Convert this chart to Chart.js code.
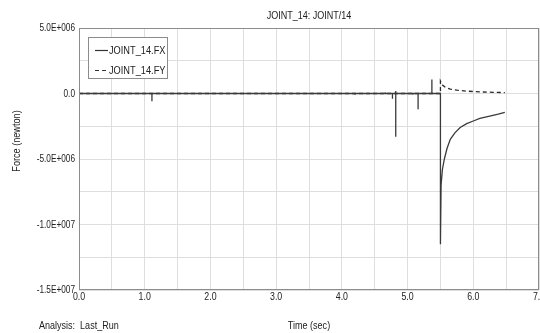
<!DOCTYPE html>
<html>
<head>
<meta charset="utf-8">
<script src="https://cdn.jsdelivr.net/npm/chart.js@4"></script>
<style>
  html, body { margin: 0; padding: 0; background: #fff; }
  #wrap { position: relative; width: 540px; height: 333px; }
</style>
</head>
<body>
<div id="wrap"><canvas id="force-chart" width="540" height="333"></canvas></div>
<script>
// JOINT_14 force vs time
const fxTime = [0, 1.11, 1.11, 1.11, 4.20, 4.20, 4.20, 4.66, 4.66, 4.66, 4.77, 4.77, 4.77,
  4.82, 4.82, 4.82, 4.82, 5.08, 5.08, 5.08, 5.16, 5.16, 5.16, 5.37, 5.37, 5.37,
  5.50, 5.50, 5.51, 5.53, 5.56, 5.60, 5.65, 5.72, 5.80, 5.90, 6.00, 6.10, 6.25, 6.38, 6.48];
const fxForce = [0, 0, -0.6e6, 0, 0, -0.1e6, 0, 0, 0.1e6, 0, 0, -0.4e6, 0,
  0, 0.2e6, -3.3e6, 0, 0, -0.1e6, 0, 0, -1.2e6, 0, 0, 1.07e6, 0,
  0, -11.5e6, -7.0e6, -5.8e6, -5.0e6, -4.2e6, -3.5e6, -3.0e6, -2.6e6, -2.3e6, -2.1e6, -1.9e6, -1.72e6, -1.58e6, -1.45e6];

const fyTime = [0, 5.50, 5.50, 5.53, 5.58, 5.65, 5.75, 5.90, 6.10, 6.30, 6.48];
const fyForce = [0, 0, 0.95e6, 0.65e6, 0.45e6, 0.33e6, 0.25e6, 0.18e6, 0.12e6, 0.09e6, 0.07e6];

const seriesLabels = ['JOINT_14.FX', 'JOINT_14.FY'];
const yTickLabels = { '5000000': '5.0E+006', '0': '0.0', '-5000000': '-5.0E+006', '-10000000': '-1.0E+007', '-15000000': '-1.5E+007' };

const FONT = "'Liberation Sans', Arial, sans-serif";

const toPoints = (xs, ys) => xs.map((x, i) => ({ x: x, y: ys[i] }));

// text squeezed horizontally to look like the narrow plot font
function narrowText(ctx, text, x, y, align, sx) {
  ctx.save();
  ctx.translate(x, y);
  ctx.scale(sx || 0.82, 1);
  ctx.textAlign = align;
  ctx.fillText(text, 0, 0);
  ctx.restore();
}

// frame, legend box, tick labels and loose text labels
const decorPlugin = {
  id: 'decor',
  afterDraw(chart) {
    const { ctx, chartArea } = chart;
    const xs = chart.scales.x, ys = chart.scales.y;
    ctx.save();
    ctx.strokeStyle = '#8c8c8c';
    ctx.lineWidth = 1;
    ctx.strokeRect(chartArea.left + 0.5, chartArea.top + 0.5, chartArea.right - chartArea.left - 1, chartArea.bottom - chartArea.top - 1);

    ctx.font = '11px ' + FONT;
    ctx.textBaseline = 'middle';
    ctx.fillStyle = '#222';

    // tick labels
    xs.ticks.forEach(t => {
      if (Math.abs(t.value - Math.round(t.value)) < 1e-9) {
        narrowText(ctx, t.value.toFixed(1), xs.getPixelForValue(t.value), 297, 'center', 0.8);
      }
    });
    ys.ticks.forEach(t => {
      const lab = yTickLabels[String(Math.round(t.value))];
      if (lab) narrowText(ctx, lab, 75, ys.getPixelForValue(t.value), 'right', 0.75);
    });

    // legend
    ctx.fillStyle = '#fff';
    ctx.fillRect(88, 37, 79, 41);
    ctx.strokeStyle = '#8c8c8c';
    ctx.strokeRect(88.5, 37.5, 79, 41);
    chart.data.datasets.forEach((ds, i) => {
      const y = 50 + i * 20 + 0.5;
      ctx.strokeStyle = '#333';
      ctx.lineWidth = 1.2;
      ctx.setLineDash(ds.borderDash || []);
      ctx.beginPath();
      ctx.moveTo(95, y);
      ctx.lineTo(108, y);
      ctx.stroke();
      ctx.setLineDash([]);
      ctx.fillStyle = '#222';
      narrowText(ctx, ds.label, 109, y, 'left', 0.84);
    });

    // titles
    ctx.fillStyle = '#222';
    narrowText(ctx, 'JOINT_14: JOINT/14', 309, 16, 'center');
    narrowText(ctx, 'Time (sec)', 309, 326, 'center');
    narrowText(ctx, 'Analysis:  Last_Run', 39, 326, 'left');
    ctx.translate(17, 141);
    ctx.rotate(-Math.PI / 2);
    narrowText(ctx, 'Force (newton)', 0, 0, 'center', 0.83);
    ctx.restore();
  }
};

new Chart(document.getElementById('force-chart'), {
  type: 'scatter',
  data: {
    datasets: [
      {
        label: seriesLabels[0],
        data: toPoints(fxTime, fxForce),
        showLine: true,
        borderColor: '#3a3a3a',
        borderWidth: 1.3,
        pointRadius: 0,
        tension: 0
      },
      {
        label: seriesLabels[1],
        data: toPoints(fyTime, fyForce),
        showLine: true,
        borderColor: '#2a2a2a',
        borderWidth: 1.3,
        borderDash: [4, 3],
        pointRadius: 0,
        tension: 0
      }
    ]
  },
  options: {
    responsive: false,
    animation: false,
    layout: { padding: { top: 28, right: 1, left: 0, bottom: 0 } },
    plugins: {
      legend: { display: false },
      tooltip: { enabled: false }
    },
    scales: {
      x: {
        type: 'linear',
        min: 0,
        max: 7,
        border: { display: false },
        grid: { color: '#dedede', tickLength: 0 },
        ticks: { display: false, stepSize: 0.5, autoSkip: false },
        afterFit: s => { s.height = 43; s.paddingLeft = 0; s.paddingRight = 0; }
      },
      y: {
        min: -1.5e7,
        max: 5e6,
        border: { display: false },
        grid: { color: '#dedede', tickLength: 0 },
        ticks: { display: false, stepSize: 2.5e6, autoSkip: false },
        afterFit: s => { s.width = 79; s.paddingTop = 0; s.paddingBottom = 0; }
      }
    }
  },
  plugins: [decorPlugin]
});
</script>
</body>
</html>
